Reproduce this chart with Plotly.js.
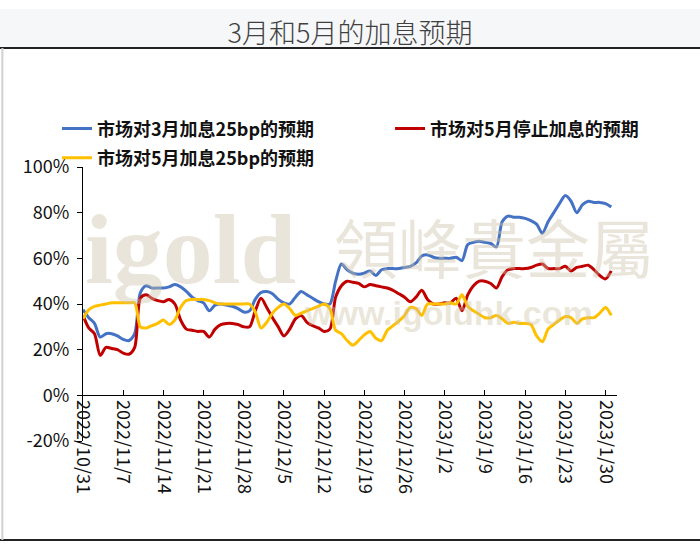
<!DOCTYPE html>
<html>
<head>
<meta charset="utf-8">
<script src="https://cdn.plot.ly/plotly-3.0.1.min.js"></script>
<style>
html,body{margin:0;padding:0;background:#fff;}
#chart{width:700px;height:544px;}
</style>
</head>
<body>
<div id="chart"></div>
<script>
const chartTitle = '3月和5月的加息预期';
const seriesNames = ['市场对3月加息25bp的预期', '市场对5月停止加息的预期', '市场对5月加息25bp的预期'];
const seriesColors = ['#4472C4', '#C00000', '#FFC000'];

const dates = [
'2022-10-31',
'2022-11-01','2022-11-02','2022-11-03','2022-11-04','2022-11-05','2022-11-06','2022-11-07','2022-11-08','2022-11-09','2022-11-10',
'2022-11-11','2022-11-12','2022-11-13','2022-11-14','2022-11-15','2022-11-16','2022-11-17','2022-11-18','2022-11-19','2022-11-20',
'2022-11-21','2022-11-22','2022-11-23','2022-11-24','2022-11-25','2022-11-26','2022-11-27','2022-11-28','2022-11-29','2022-11-30',
'2022-12-01','2022-12-02','2022-12-03','2022-12-04','2022-12-05','2022-12-06','2022-12-07','2022-12-08','2022-12-09','2022-12-10',
'2022-12-11','2022-12-12','2022-12-13','2022-12-14','2022-12-15','2022-12-16','2022-12-17','2022-12-18','2022-12-19','2022-12-20',
'2022-12-21','2022-12-22','2022-12-23','2022-12-24','2022-12-25','2022-12-26','2022-12-27','2022-12-28','2022-12-29','2022-12-30',
'2022-12-31',
'2023-01-01','2023-01-02','2023-01-03','2023-01-04','2023-01-05','2023-01-06','2023-01-07','2023-01-08','2023-01-09','2023-01-10',
'2023-01-11','2023-01-12','2023-01-13','2023-01-14','2023-01-15','2023-01-16','2023-01-17','2023-01-18','2023-01-19','2023-01-20',
'2023-01-21','2023-01-22','2023-01-23','2023-01-24','2023-01-25','2023-01-26','2023-01-27','2023-01-28','2023-01-29','2023-01-30',
'2023-01-31'
];

const march25bp = [
37.5, 34, 31.5, 25.5, 27, 27, 26, 24.5, 24, 27,
45, 48, 47, 47, 47, 47.5, 48.5, 47.5, 45.5, 43,
41.5, 40.5, 37, 39.5, 40, 39.5, 39, 38, 36.5, 37,
42, 45, 45.5, 44.5, 42, 40.5, 40, 43, 45.5, 44,
42.5, 41, 40, 40, 50, 57.5, 55, 53.5, 53, 53.5,
54.5, 52.5, 55, 55.5, 55.5, 55.5, 56, 56.5, 58, 61,
61.5, 60.5, 60, 60, 60, 60.5, 59, 66, 67, 67.5,
67, 66.5, 65, 76, 78.5, 78, 78, 77.5, 76.5, 75,
71, 76, 80, 84, 87.5, 85, 80, 83.5, 85, 84.5,
84.5, 84, 82.5
];

const mayPause = [
35, 29.5, 27, 17.5, 21, 20.5, 20, 18.5, 18, 21,
42.5, 44, 42.5, 41.5, 41, 42, 40, 33, 29, 28.5,
28, 28, 25.5, 29, 31, 31.5, 31.5, 31, 30, 30,
37, 42.5, 38.5, 34, 30, 26, 29, 33.5, 35, 32,
30.5, 29.5, 28, 29, 43, 48, 50, 49.5, 49, 47.5,
48.5, 48, 47.5, 47, 46, 44.5, 43, 41, 43, 46,
42, 40, 40, 40.5, 40.5, 42.5, 37, 44, 48, 50,
50, 49, 47, 52, 55, 55.5, 55.5, 55.5, 56, 57,
57.5, 55.5, 55.5, 55.5, 56.5, 54.5, 56, 56.5, 57, 55,
52.5, 51, 54.5
];

const may25bp = [
33.5, 37.5, 39, 39.5, 40, 40.5, 40.5, 40.5, 40.5, 40.5,
30, 29.5, 30.5, 31.5, 33, 31, 33, 38.5, 41.5, 42,
42, 42, 41.5, 40.5, 40, 40, 40, 40, 40, 40,
36.5, 29.5, 32, 36, 38.5, 40, 38, 35, 36, 37,
38, 39, 40, 38, 28.5, 27, 24, 22, 24, 26.5,
28, 25, 24, 28.5, 30.5, 32.5, 35, 38.5, 38, 35,
40, 40, 40, 40, 40.5, 40, 44, 39, 37, 35.5,
34, 34, 35, 33.5, 31.5, 32, 31.5, 31.5, 31, 26,
23.5, 29, 31, 33, 34.5, 34, 31.5, 33.5, 34, 34,
36, 38.5, 35
];

const xTickVals = ['2022-10-31','2022-11-07','2022-11-14','2022-11-21','2022-11-28','2022-12-05','2022-12-12','2022-12-19','2022-12-26','2023-01-02','2023-01-09','2023-01-16','2023-01-23','2023-01-30'];
const xTickText = ['2022/10/31','2022/11/7','2022/11/14','2022/11/21','2022/11/28','2022/12/5','2022/12/12','2022/12/19','2022/12/26','2023/1/2','2023/1/9','2023/1/16','2023/1/23','2023/1/30'];
const yTickVals = [-20, 0, 20, 40, 60, 80, 100];
const yTickText = ['-20%', '0%', '20%', '40%', '60%', '80%', '100%'];
const watermarkTexts = ['igold', '領峰貴金屬', 'www.igoldhk.com'];

const FONT = '"Noto Sans CJK SC", "Noto Sans", sans-serif';

const seriesData = [march25bp, mayPause, may25bp];
const legendIds = ['legend', 'legend2', 'legend3'];
const traces = seriesData.map((vals, i) => ({
  type: 'scatter',
  mode: 'lines',
  x: dates,
  y: vals,
  name: seriesNames[i],
  legend: legendIds[i],
  line: {color: seriesColors[i], width: 3, shape: 'spline', smoothing: 0.8},
  hoverinfo: 'skip'
}));

const legendFont = {family: FONT, size: 18, color: '#111', weight: 'bold'};
function legendAt(x, y) {
  return {x: x, y: y, xanchor: 'left', yanchor: 'middle', orientation: 'h',
          bgcolor: 'rgba(0,0,0,0)', borderwidth: 0, font: legendFont, itemwidth: 30};
}

const wmColor = 'rgba(205,194,166,0.42)';

const layout = {
  width: 700,
  height: 544,
  margin: {l: 83, r: 83, t: 167, b: 103},
  paper_bgcolor: '#ffffff',
  plot_bgcolor: 'rgba(0,0,0,0)',
  showlegend: true,
  title: {
    text: chartTitle,
    x: 0.5, xref: 'container', xanchor: 'center',
    y: 0.939, yref: 'container', yanchor: 'middle',
    font: {family: FONT, size: 27, color: '#404040', weight: 300}
  },
  xaxis: {
    type: 'date',
    range: ['2022-10-31', '2023-02-01'],
    anchor: 'free',
    position: 1 / 6,
    tickmode: 'array',
    tickvals: xTickVals,
    ticktext: xTickText,
    tickangle: 90,
    ticks: 'inside',
    ticklen: 5,
    tickcolor: '#000',
    showline: true,
    linecolor: '#000',
    linewidth: 1,
    showgrid: false,
    zeroline: false,
    tickfont: {family: FONT, size: 18, color: '#111'},
    fixedrange: true
  },
  yaxis: {
    range: [-20, 100],
    tickmode: 'array',
    tickvals: yTickVals,
    ticktext: yTickText,
    ticks: 'outside',
    ticklen: 5,
    tickcolor: '#000',
    ticklabelstandoff: 4,
    showline: true,
    linecolor: '#000',
    linewidth: 1,
    showgrid: false,
    zeroline: false,
    tickfont: {family: FONT, size: 18, color: '#111'},
    fixedrange: true
  },
  legend: legendAt(-0.0487, 1.139),
  legend2: legendAt(0.575, 1.139),
  legend3: legendAt(-0.0487, 1.033),
  shapes: [
    {type: 'rect', xref: 'paper', yref: 'paper', x0: -0.2, x1: 1.2, y0: 1.434, y1: 1.577,
     fillcolor: '#f6f7f9', line: {width: 0}, layer: 'below'},
    {type: 'line', xref: 'paper', yref: 'paper', x0: -0.16, x1: 1.2, y0: 1.434, y1: 1.434,
     line: {color: '#222', width: 2}, layer: 'below'},
    {type: 'line', xref: 'paper', yref: 'paper', x0: -0.2, x1: 1.2, y0: -0.361, y1: -0.361,
     line: {color: '#222', width: 2}, layer: 'below'},
    {type: 'line', xref: 'paper', yref: 'paper', x0: -0.151, x1: -0.151, y0: -0.361, y1: 1.434,
     line: {color: '#d0d0d0', width: 2}, layer: 'below'}
  ],
  annotations: [
    {text: watermarkTexts[0], xref: 'paper', yref: 'paper', x: 0.0, y: 0.70, showarrow: false,
     xanchor: 'left', yanchor: 'middle',
     font: {family: '"Liberation Serif", "DejaVu Serif", serif', size: 100, color: wmColor, weight: 'bold'}},
    {text: watermarkTexts[1], xref: 'paper', yref: 'paper', x: 0.77, y: 0.715, showarrow: false,
     xanchor: 'center', yanchor: 'middle',
     font: {family: '"Noto Sans CJK TC", "Noto Sans CJK SC", sans-serif', size: 64, color: wmColor}},
    {text: watermarkTexts[2], xref: 'paper', yref: 'paper', x: 0.41, y: 0.468, showarrow: false,
     xanchor: 'left', yanchor: 'middle',
     font: {family: '"Liberation Sans", Arial, sans-serif', size: 34, color: wmColor, weight: 'bold'}}
  ]
};

Plotly.newPlot('chart', traces, layout, {staticPlot: true, displayModeBar: false});
</script>
</body>
</html>
